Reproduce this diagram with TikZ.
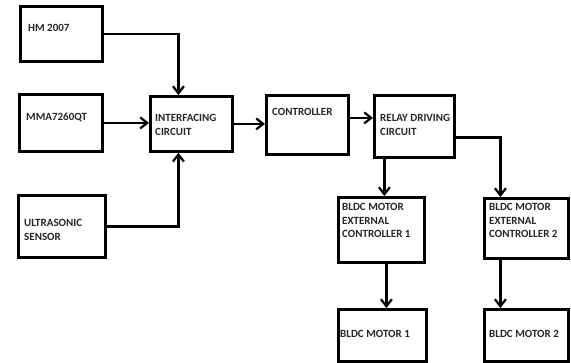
\documentclass[tikz,border=0pt]{standalone}
\usepackage{fontspec}
\setmainfont{Carlito}
\usetikzlibrary{arrows.meta}
\begin{document}
\begin{tikzpicture}[x=1pt,y=-1pt,
  box/.style={draw=black, line width=2.8pt, anchor=north west, inner sep=0pt},
  lbl/.style={anchor=north west, inner sep=0pt, align=left, text=black!85,
    font=\fontsize{11}{13.5}\selectfont\bfseries},
  arr/.style={line width=2.5pt, -{Straight Barb[length=7pt,width=11pt,line width=2.2pt]}},
  ln/.style={line width=2.5pt}]
\useasboundingbox (0,0) rectangle (571,362);
% boxes
\node[box, minimum width=82pt, minimum height=55pt] (hm) at (19,5) {};
\node[box, minimum width=83pt, minimum height=57pt] (mma) at (18,93) {};
\node[box, minimum width=82pt, minimum height=55pt] (intf) at (149,95) {};
\node[box, minimum width=82pt, minimum height=59pt] (ctrl) at (265,94) {};
\node[box, minimum width=80pt, minimum height=62pt] (relay) at (373,94) {};
\node[box, minimum width=87pt, minimum height=62pt] (ultra) at (17,194) {};
\node[box, minimum width=86pt, minimum height=65pt] (ext1) at (337,196) {};
\node[box, minimum width=84pt, minimum height=60pt] (ext2) at (483,197) {};
\node[box, minimum width=88pt, minimum height=52pt] (mot1) at (337,308) {};
\node[box, minimum width=84pt, minimum height=52pt] (mot2) at (483,308) {};
% labels
\node[lbl] (thm) at (28,24.5) {HM 2007};
\node[lbl] (tmma) at (26,113) {MMA7260QT};
\node[lbl] (tintf) at (155,114.5) {INTERFACING\\CIRCUIT};
\node[lbl] (tctrl) at (272,108.5) {CONTROLLER};
\node[lbl] (trelay) at (380,114.5) {RELAY DRIVING\\CIRCUIT};
\node[lbl] (tultra) at (24,219.5) {ULTRASONIC\\SENSOR};
\node[lbl] (text1) at (342,203.5) {BLDC MOTOR\\EXTERNAL\\CONTROLLER 1};
\node[lbl] (text2) at (489,203.5) {BLDC MOTOR\\EXTERNAL\\CONTROLLER 2};
\node[lbl] (tmot1) at (340,330.5) {BLDC MOTOR 1};
\node[lbl] (tmot2) at (489,330.5) {BLDC MOTOR 2};
% connector points
\coordinate (intfin) at ([xshift=-13pt]intf.north);
\coordinate (intfbot) at ([xshift=-13pt]intf.south);
\coordinate (relayR) at ([yshift=-11pt]relay.east);
\coordinate (relayB) at ([xshift=-30pt]relay.south);
\coordinate (ext1top) at (relayB |- ext1.north);
\coordinate (ext2top) at ([xshift=-26pt]ext2.north);
% connectors
\draw[arr] (hm.east) -| (intfin);
\draw[arr] (mma.east) -- (mma.east -| intf.west);
\draw[arr] (ultra.east) -| (intfbot);
\draw[arr] (intf.east) -- (intf.east -| ctrl.west);
\draw[arr] ([yshift=7pt]ctrl.west -| ctrl.east) -- ([yshift=7pt]ctrl.west -| relay.west);
\draw[arr] (relayR) -| (ext2top);
\draw[arr] (relayB) -- (ext1top);
\draw[arr] ([xshift=5pt]ext1.south) -- ([xshift=5pt]ext1.south |- mot1.north);
\draw[arr] ([xshift=-26pt]ext2.south) -- ([xshift=-26pt]ext2.south |- mot2.north);
\end{tikzpicture}
\end{document}
